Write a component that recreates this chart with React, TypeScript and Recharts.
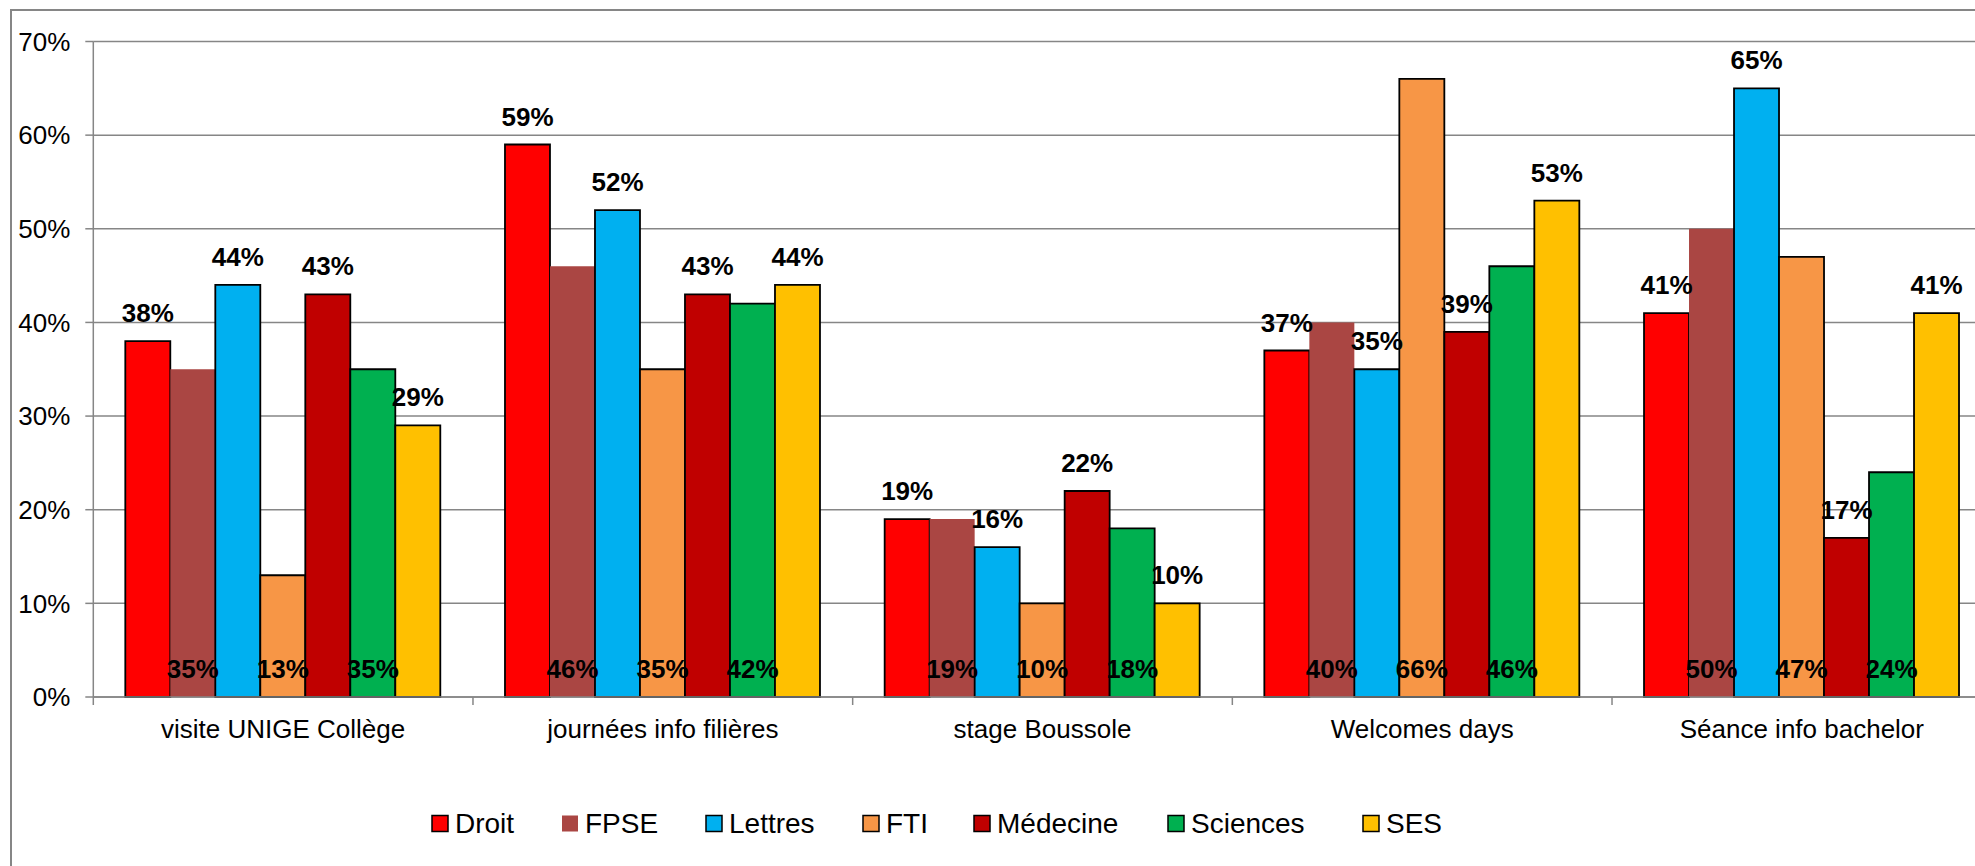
import React from 'react';
import { BarChart, Bar, XAxis, YAxis, CartesianGrid, Legend, LabelList } from 'recharts';

// ---- data ----
const categories = [
  'visite UNIGE Collège',
  'journées info filières',
  'stage Boussole',
  'Welcomes days',
  'Séance info bachelor',
];
const droit = [38, 59, 19, 37, 41];
const fpse = [35, 46, 19, 40, 50];
const lettres = [44, 52, 16, 35, 65];
const fti = [13, 35, 10, 66, 47];
const medecine = [43, 43, 22, 39, 17];
const sciences = [35, 42, 18, 46, 24];
const ses = [29, 44, 10, 53, 41];

const seriesNames = ['Droit', 'FPSE', 'Lettres', 'FTI', 'Médecine', 'Sciences', 'SES'];
const seriesValues = [droit, fpse, lettres, fti, medecine, sciences, ses];
const yTicks = [0, 10, 20, 30, 40, 50, 60, 70];

// ---- styles ----
const seriesColors = ['#FF0000', '#AA4643', '#00B0F0', '#F79646', '#C00000', '#00B050', '#FFC000'];
const seriesLabelAtBase = [false, true, false, true, false, true, false];
const seriesOutlined = [true, false, true, true, true, true, true];
const LEGEND_X = [432, 562, 706, 863, 974, 1168, 1363];

const FONT = '"Liberation Sans", Arial, Helvetica, sans-serif';
const GRAY = '#868686';
const CHART_W = 2010;
const CHART_H = 866;

const data = categories.map((c, i) => {
  const row: any = { category: c };
  seriesNames.forEach((n, j) => {
    row[n] = seriesValues[j][i];
  });
  return row;
});

const makeLabel = (atBase: boolean) => (props: any) => {
  const { x, y, width, height, value } = props;
  const cx = Number(x) + Number(width) / 2;
  const by = atBase ? Number(y) + Number(height) - 19 : Number(y) - 19;
  return (
    <text x={cx} y={by} textAnchor="middle" fontFamily={FONT} fontWeight="bold" fontSize={26} fill="#000">
      {value}%
    </text>
  );
};

const XTick = (props: any) => {
  const { x, y, payload, index, width } = props;
  const half = (Number(width) || 1898.4) / categories.length / 2;
  const lx = x - half;
  return (
    <g>
      <line x1={lx} y1={y} x2={lx} y2={y + 8} stroke={GRAY} strokeWidth={1.5} />
      {index === categories.length - 1 && (
        <line x1={x + half} y1={y} x2={x + half} y2={y + 8} stroke={GRAY} strokeWidth={1.5} />
      )}
      <text x={x} y={y + 41.3} textAnchor="middle" fontFamily={FONT} fontSize={26} fill="#000">
        {payload.value}
      </text>
    </g>
  );
};

const YTick = (props: any) => {
  const { x, y, payload } = props;
  return (
    <text x={x} y={y + 9.3} textAnchor="end" fontFamily={FONT} fontSize={26} fill="#000">
      {payload.value}%
    </text>
  );
};

const renderLegend = () => (
  <svg width={CHART_W} height={50} style={{ display: 'block' }}>
    {seriesNames.map((n, i) => (
      <g key={n}>
        <rect
          x={LEGEND_X[i]}
          y={17.5}
          width={16}
          height={16}
          fill={seriesColors[i]}
          stroke={seriesOutlined[i] ? '#000' : 'none'}
          strokeWidth={1.5}
        />
        <text x={LEGEND_X[i] + 23} y={34.7} fontFamily={FONT} fontSize={28} fill="#000">
          {n}
        </text>
      </g>
    ))}
  </svg>
);

export default function App() {
  return (
    <div
      style={{
        position: 'fixed',
        left: 0,
        top: 0,
        width: 1975,
        height: 866,
        overflow: 'hidden',
        background: '#fff',
      }}
    >
      <div
        style={{
          position: 'absolute',
          left: 10,
          top: 9,
          width: 2100,
          height: 1000,
          border: `2px solid ${GRAY}`,
          boxSizing: 'border-box',
        }}
      />
      <div style={{ position: 'absolute', left: 0, top: 0 }}>
        <BarChart
          width={CHART_W}
          height={CHART_H}
          data={data}
          margin={{ top: 41.5, right: 18.3, left: 0, bottom: 0 }}
          barGap={0}
        >
          <CartesianGrid vertical={false} stroke={GRAY} strokeWidth={1.5} />
          <XAxis
            dataKey="category"
            height={119}
            interval={0}
            tickLine={false}
            tickSize={0}
            tickMargin={0}
            axisLine={{ stroke: GRAY, strokeWidth: 1.5 }}
            tick={<XTick />}
          />
          <YAxis
            width={93.3}
            domain={[0, 70]}
            ticks={yTicks}
            interval={0}
            tickSize={8}
            tickMargin={15}
            axisLine={{ stroke: GRAY, strokeWidth: 1.5 }}
            tickLine={{ stroke: GRAY, strokeWidth: 1.5 }}
            tick={<YTick />}
          />
          <Legend content={renderLegend} wrapperStyle={{ left: 0, top: 798, width: CHART_W, height: 50 }} />
          {seriesNames.map((n, i) => (
            <Bar
              key={n}
              dataKey={n}
              fill={seriesColors[i]}
              stroke={seriesOutlined[i] ? '#000' : 'none'}
              strokeWidth={1.8}
              barSize={45}
              isAnimationActive={false}
            >
              <LabelList dataKey={n} content={makeLabel(seriesLabelAtBase[i])} />
            </Bar>
          ))}
        </BarChart>
      </div>
    </div>
  );
}
